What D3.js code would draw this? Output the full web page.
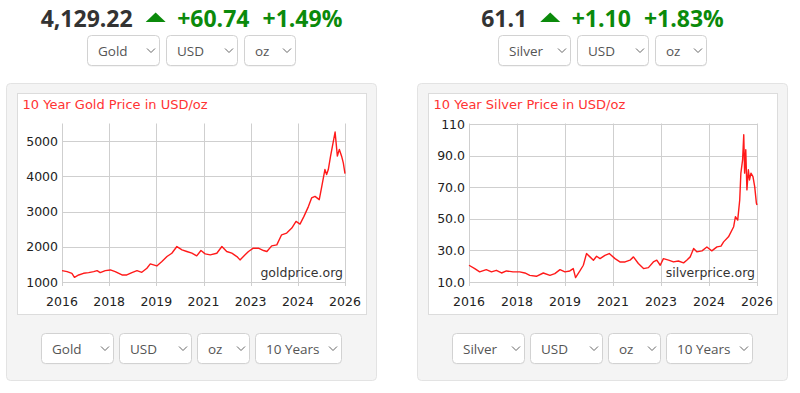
<!DOCTYPE html>
<html>
<head>
<meta charset="utf-8">
<script src="https://cdn.jsdelivr.net/npm/d3@7"></script>
<style>
  html, body { margin: 0; padding: 0; background: #fff; }
  svg { display: block; }
</style>
</head>
<body>
<svg id="chart" width="800" height="393"></svg>
<script>
// ==================== DATA ====================
const xTickLabels = ['2016', '2018', '2019', '2021', '2023', '2024', '2026'];

// years since start of chart (0 = left edge, 10 = right edge)
const goldYears = [0, 0.18, 0.35, 0.44, 0.59, 0.76, 0.94, 1.12, 1.24, 1.35, 1.53, 1.71, 1.88, 2.12, 2.29,
  2.47, 2.65, 2.82, 3.0, 3.12, 3.35, 3.53, 3.71, 3.88, 4.06, 4.24, 4.41, 4.59, 4.76, 4.91, 5.06, 5.24,
  5.47, 5.65, 5.82, 6.0, 6.18, 6.29, 6.47, 6.59, 6.76, 6.94, 7.12, 7.24, 7.41, 7.59, 7.76, 7.94, 8.12,
  8.27, 8.41, 8.55, 8.71, 8.82, 8.94, 9.09, 9.18, 9.29, 9.35, 9.41, 9.49, 9.59, 9.65, 9.73, 9.8, 9.88,
  9.94, 10];
const goldPrices = [1322, 1294, 1247, 1134, 1199, 1247, 1266, 1294, 1322, 1266, 1322, 1342, 1294, 1199, 1199,
  1266, 1322, 1275, 1390, 1513, 1456, 1579, 1722, 1817, 2006, 1912, 1865, 1817, 1741, 1893, 1798, 1770,
  1817, 2006, 1865, 1817, 1722, 1627, 1770, 1865, 1959, 1959, 1893, 1865, 2026, 2054, 2339, 2387, 2529,
  2718, 2643, 2861, 3146, 3384, 3430, 3336, 3716, 4191, 4048, 4191, 4570, 4998, 5254, 4570, 4761, 4570,
  4381, 4077];
const goldTicks = [1000, 2000, 3000, 4000, 5000];
const goldTickLabels = ['1000', '2000', '3000', '4000', '5000'];

const silverYears = [0, 0.2, 0.37, 0.6, 0.78, 0.95, 1.13, 1.3, 1.53, 1.76, 1.94, 2.11, 2.34, 2.58, 2.81,
  2.98, 3.16, 3.33, 3.5, 3.62, 3.7, 3.85, 3.97, 4.08, 4.2, 4.32, 4.43, 4.55, 4.72, 4.87, 5.07, 5.24,
  5.42, 5.59, 5.71, 5.88, 6.06, 6.23, 6.4, 6.52, 6.64, 6.75, 6.93, 7.1, 7.27, 7.45, 7.56, 7.68, 7.8,
  7.91, 8.09, 8.26, 8.43, 8.61, 8.75, 8.84, 9.01, 9.19, 9.25, 9.33, 9.4, 9.44, 9.5, 9.54, 9.57, 9.61,
  9.65, 9.7, 9.74, 9.79, 9.86, 9.92, 9.98, 10];
const silverPrices = [20.6, 18.5, 16.4, 17.8, 16.4, 17.4, 15.7, 17.0, 16.4, 16.4, 15.7, 14.2, 13.6, 15.7, 14.2,
  15.3, 17.8, 16.4, 17.0, 18.5, 12.8, 17.0, 20.6, 28.0, 25.9, 23.8, 26.3, 24.8, 26.9, 28.0, 24.8, 22.7,
  22.7, 23.8, 25.9, 21.7, 18.5, 19.1, 22.7, 23.8, 20.6, 24.8, 23.8, 22.7, 23.3, 22.1, 23.8, 25.9, 31.2,
  29.1, 29.7, 32.2, 29.7, 32.2, 32.7, 35.4, 38.6, 45.0, 51.3, 49.2, 61.9, 78.9, 87.3, 103.2, 78.9, 93.7,
  68.3, 81.0, 74.6, 78.9, 76.7, 70.4, 59.8, 58.7];
const silverTicks = [10, 30, 50, 70, 90, 110];
const silverTickLabels = ['10.0', '30.0', '50.0', '70.0', '90.0', '110'];

const metals = ['Gold', 'Silver'];
const spotPrices = ['4,129.22', '61.1'];
const spotChanges = ['+60.74', '+1.10'];
const spotPercents = ['+1.49%', '+1.83%'];
const watermarks = ['goldprice.org', 'silverprice.org'];
const currency = 'USD';
const unit = 'oz';
const period = '10 Years';

// ==================== DRAW ====================
const svg = d3.select('#chart');
const green = '#0b8a0b';
const chartFont = '"DejaVu Sans", Verdana, sans-serif';
const uiFont = '"Open Sans", sans-serif';

function dropdown(g, x, y, w, h, label) {
  const d = g.append('g').attr('transform', `translate(${x},${y})`);
  d.append('rect')
    .attr('x', 0.5).attr('y', 1.5)
    .attr('width', w - 1).attr('height', h - 1)
    .attr('rx', 4)
    .attr('fill', '#ececec');
  d.append('rect')
    .attr('x', 0.5).attr('y', 0.5)
    .attr('width', w - 1).attr('height', h - 1)
    .attr('rx', 4)
    .attr('fill', '#fff')
    .attr('stroke', '#d2d2d2');
  d.append('text')
    .attr('x', 11)
    .attr('y', h / 2 + 5)
    .attr('font-family', uiFont)
    .attr('font-size', '13.5px')
    .attr('fill', '#555')
    .text(label);
  d.append('path')
    .attr('d', `M${w - 13},${h / 2 - 2} l4,4 l4,-4`)
    .attr('fill', 'none')
    .attr('stroke', '#666')
    .attr('stroke-width', 1);
}

function dropdownRow(g, cx, y, h, widths, labels, gap) {
  const total = d3.sum(widths) + gap * (widths.length - 1);
  let x = cx - total / 2;
  widths.forEach((w, i) => {
    dropdown(g, x, y, w, h, labels[i]);
    x += w + gap;
  });
}

function drawHeader(cx, i) {
  const g = svg.append('g');
  const base = 27;
  const price = g.append('text')
    .attr('y', base)
    .attr('font-family', uiFont).attr('font-weight', 700).attr('font-size', '23px')
    .attr('fill', '#333').text(spotPrices[i]);
  const tri = g.append('path').attr('fill', green);
  const chg = g.append('text')
    .attr('y', base)
    .attr('font-family', uiFont).attr('font-weight', 700).attr('font-size', '23px')
    .attr('fill', green).text(spotChanges[i]);
  const pct = g.append('text')
    .attr('y', base)
    .attr('font-family', uiFont).attr('font-weight', 700).attr('font-size', '23px')
    .attr('fill', green).text(spotPercents[i]);

  const wp = price.node().getComputedTextLength();
  const wc = chg.node().getComputedTextLength();
  const wpc = pct.node().getComputedTextLength();
  const triW = 20;
  const total = wp + 13 + triW + 11.5 + wc + 13 + wpc;
  let x = cx - total / 2;
  price.attr('x', x);
  x += wp + 13;
  tri.attr('d', `M${x},22 L${x + triW / 2},12.5 L${x + triW},22 Z`);
  x += triW + 11.5;
  chg.attr('x', x);
  x += wc + 13;
  pct.attr('x', x);

  dropdownRow(g, cx, 35, 31, [73, 72, 52], [metals[i], currency, unit], 6);
}

function drawPanel(cfg) {
  const { ox, plotL, plotR, years, prices, ticks, tickLabels, i } = cfg;
  const g = svg.append('g');
  const outerW = 371;

  g.append('rect')
    .attr('x', ox + 0.5).attr('y', 83.5)
    .attr('width', outerW - 1).attr('height', 297)
    .attr('rx', 4)
    .attr('fill', '#f4f4f4')
    .attr('stroke', '#e3e3e3');

  g.append('rect')
    .attr('x', ox + 11.5).attr('y', 93.5)
    .attr('width', 349).attr('height', 221)
    .attr('fill', '#fff')
    .attr('stroke', '#dcdcdc');

  g.append('text')
    .attr('x', ox + 16.5).attr('y', 108.5)
    .attr('font-family', chartFont).attr('font-size', '13px')
    .attr('fill', '#ff3333')
    .text(`10 Year ${metals[i]} Price in ${currency}/${unit}`);

  const plotTop = 123.5;
  const x = d3.scaleLinear().domain([0, 10]).range([plotL, plotR]);
  const y = d3.scaleLinear().domain([ticks[0], ticks[ticks.length - 1]]).range(cfg.yRange);
  const xTicks = d3.range(xTickLabels.length).map((k) => k * 10 / (xTickLabels.length - 1));
  const yBottom = y(ticks[0]);

  // grid
  g.append('g')
    .selectAll('line')
    .data(ticks)
    .join('line')
    .attr('x1', plotL).attr('x2', plotR)
    .attr('y1', (d) => Math.round(y(d)) + 0.5)
    .attr('y2', (d) => Math.round(y(d)) + 0.5)
    .attr('stroke', '#cfcfcf');

  g.append('g')
    .selectAll('line')
    .data(xTicks)
    .join('line')
    .attr('x1', (d) => Math.round(x(d)) + 0.5)
    .attr('x2', (d) => Math.round(x(d)) + 0.5)
    .attr('y1', plotTop)
    .attr('y2', yBottom + 4)
    .attr('stroke', '#cfcfcf');

  // y labels
  g.append('g')
    .selectAll('text')
    .data(ticks)
    .join('text')
    .attr('x', plotL - 4)
    .attr('y', (d) => y(d) + 4.5)
    .attr('text-anchor', 'end')
    .attr('font-family', chartFont).attr('font-size', '12.5px')
    .attr('fill', '#222')
    .text((d, k) => tickLabels[k]);

  // x labels
  g.append('g')
    .selectAll('text')
    .data(xTicks)
    .join('text')
    .attr('x', (d) => x(d))
    .attr('y', 305.5)
    .attr('text-anchor', 'middle')
    .attr('font-family', chartFont).attr('font-size', '12.5px')
    .attr('fill', '#222')
    .text((d, k) => xTickLabels[k]);

  // watermark
  g.append('text')
    .attr('x', plotR - 2)
    .attr('y', 277)
    .attr('text-anchor', 'end')
    .attr('font-family', chartFont).attr('font-size', '12.5px')
    .attr('fill', '#333')
    .text(watermarks[i]);

  // price line
  const pts = years.map((yr, k) => [yr, prices[k]]);
  g.append('path')
    .datum(pts)
    .attr('fill', 'none')
    .attr('stroke', '#ff1a1a')
    .attr('stroke-width', 1.4)
    .attr('stroke-linejoin', 'round')
    .attr('d', d3.line().x((d) => x(d[0])).y((d) => y(d[1])));

  dropdownRow(g, ox + outerW / 2, 333, 31, [73, 73, 53, 87], [metals[i], currency, unit, period], 5);
}

drawHeader(191.5, 0);
drawHeader(602.5, 1);

drawPanel({
  i: 0, ox: 6, plotL: 62, plotR: 345,
  years: goldYears, prices: goldPrices,
  ticks: goldTicks, tickLabels: goldTickLabels,
  yRange: [282, 141],
});

drawPanel({
  i: 1, ox: 417, plotL: 469, plotR: 757,
  years: silverYears, prices: silverPrices,
  ticks: silverTicks, tickLabels: silverTickLabels,
  yRange: [282, 124],
});
</script>
</body>
</html>
